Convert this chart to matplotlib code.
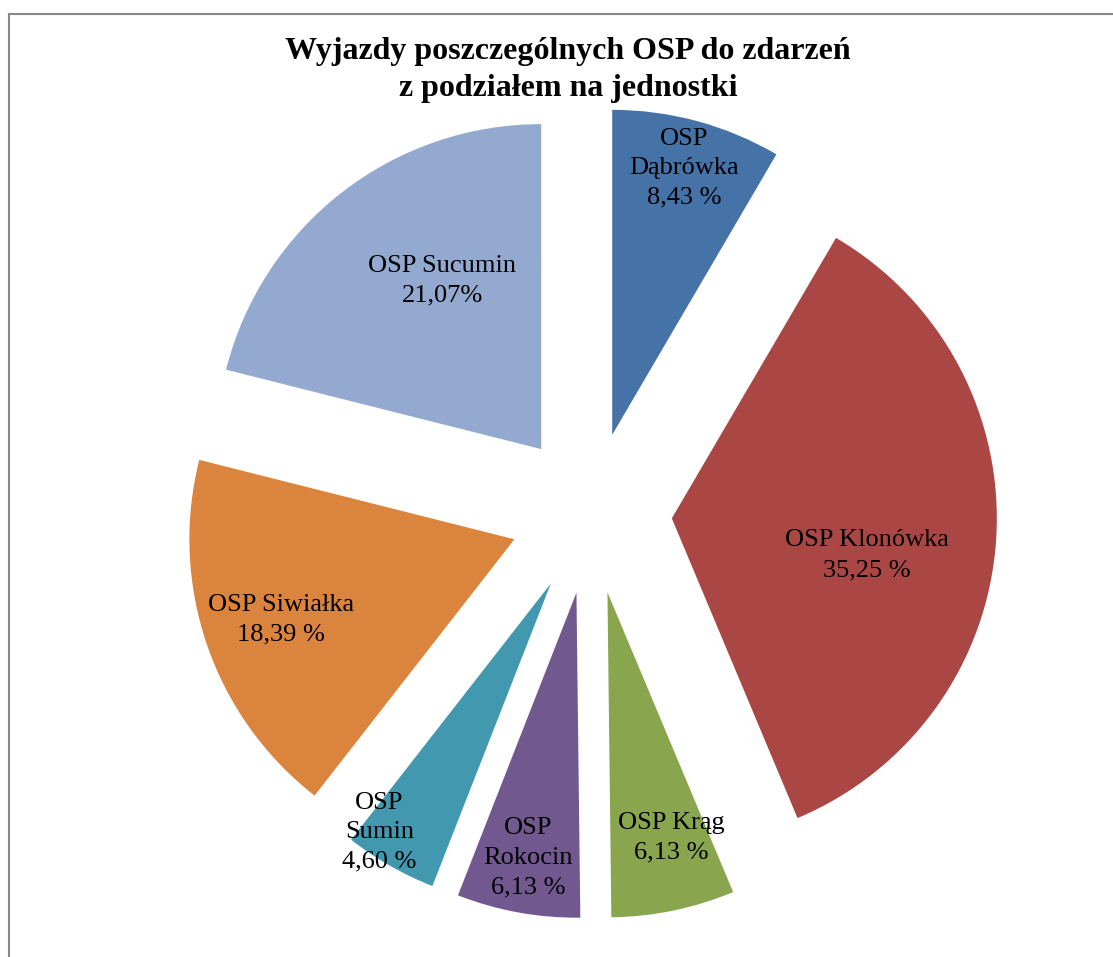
import matplotlib

matplotlib.use("Agg")
import matplotlib.pyplot as plt
import numpy as np
from matplotlib.lines import Line2D

units = ["OSP\nDąbrówka", "OSP Klonówka", "OSP Krąg", "OSP\nRokocin",
         "OSP\nSumin", "OSP Siwiałka", "OSP Sucumin"]
shares = [8.43, 35.25, 6.13, 6.13, 4.60, 18.39, 21.07]
share_labels = ["8,43 %", "35,25 %", "6,13 %", "6,13 %", "4,60 %", "18,39 %", "21,07%"]

colors = ["#4572A7", "#AA4643", "#89A54E", "#71588F", "#4198AF", "#DB843D", "#93A9CF"]
# label placement: fraction of radius from the slice apex, and angle nudge (deg)
label_r = [0.85, 0.61, 0.78, 0.83, 0.93, 0.76, 0.60]
label_dt = [0, -6.9, 2.9, 0, -4.9, 0, -7.5]

W, H = 1113, 957
fig = plt.figure(figsize=(W / 100, H / 100), dpi=100)
ax = fig.add_axes([0, 0, 1, 1])

R = 325
cx, cy = 591, H - 513
# explode is in data units here (pixels), not a fraction of the radius
wedges, _ = ax.pie(shares, colors=colors, startangle=90, counterclock=False,
                   radius=R, center=(cx, cy), explode=[81] * len(shares),
                   frame=True, wedgeprops=dict(linewidth=0))
ax.set_xlim(0, W)
ax.set_ylim(0, H)
ax.axis("off")

for w, name, pct, rf, dt in zip(wedges, units, share_labels, label_r, label_dt):
    mid = np.deg2rad((w.theta1 + w.theta2) / 2 + dt)
    x = w.center[0] + rf * R * np.cos(mid)
    y = w.center[1] + rf * R * np.sin(mid)
    ax.text(x, y, f"{name}\n{pct}", ha="center", va="center", fontsize=19,
            family="Liberation Serif", linespacing=1.45)

fig.text(568 / W, 1 - 70 / H,
         "Wyjazdy poszczególnych OSP do zdarzeń\nz podziałem na jednostki",
         ha="center", va="center", fontsize=23, fontweight="bold",
         family="Liberation Serif", linespacing=1.35)

# chart border (left and top edges visible)
fig.add_artist(Line2D([8.5 / W, 8.5 / W], [0, 1 - 13.5 / H], transform=fig.transFigure,
                      color="#888888", linewidth=1.5))
fig.add_artist(Line2D([8.5 / W, 1], [1 - 13.5 / H, 1 - 13.5 / H], transform=fig.transFigure,
                      color="#888888", linewidth=1.5))

fig.savefig("out.png", dpi=100)
